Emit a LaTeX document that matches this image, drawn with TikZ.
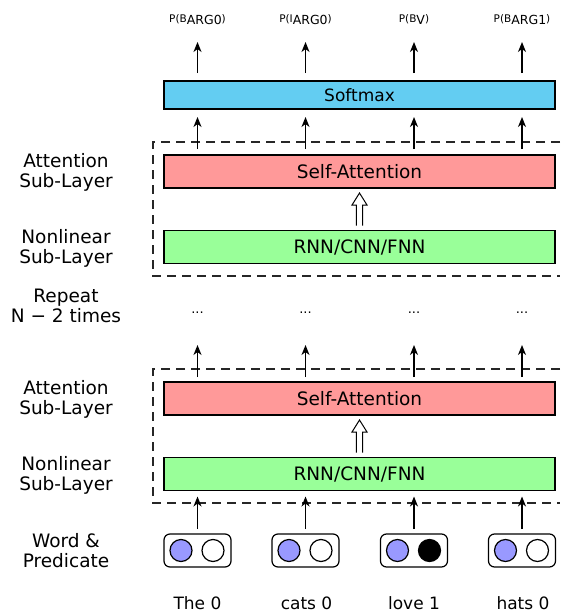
\documentclass[tikz,border=0pt]{standalone}
\usepackage{fontspec}
\setmainfont{DejaVu Sans}
\usetikzlibrary{arrows.meta,calc}
\definecolor{softcol}{RGB}{99,205,242}
\definecolor{attcol}{RGB}{255,153,153}
\definecolor{rnncol}{RGB}{153,255,153}
\definecolor{wordcol}{RGB}{153,153,255}
\begin{document}
\begin{tikzpicture}[x=1pt,y=-1pt,
  every node/.style={inner sep=0pt,outer sep=0pt},
  layerbox/.style={draw=black,line width=1.2pt,minimum width=391pt,minimum height=33pt,
    font=\fontsize{18.5}{20}\selectfont},
  sidelab/.style={anchor=base,font=\fontsize{18.5}{20}\selectfont},
  wordlab/.style={anchor=base,font=\fontsize{17}{20}\selectfont},
  toplab/.style={anchor=base,font=\fontsize{10.5}{12}\selectfont},
  sublab/.style={},
  dots/.style={anchor=base,font=\fontsize{13}{14}\selectfont},
  inbox/.style={draw=black,line width=1.2pt,rounded corners=6pt,minimum width=67pt,minimum height=33pt},
  unit/.style={circle,draw=black,line width=1.2pt,minimum size=22pt},
  arr/.style={-{Stealth[length=10pt,width=8pt,inset=3pt]},line width=1.4pt},
  hollow/.style={draw=black,line width=1pt,line join=miter},
  group/.style={draw=black!85,line width=1.2pt,dash pattern=on 9pt off 6pt}
]
\useasboundingbox (0,0) rectangle (560,613);

% column positions
\def\cA{197.5}\def\cB{305.5}\def\cC{414}\def\cD{522}
\def\sub#1{\raisebox{-2.5pt}{\fontsize{12.5}{12}\selectfont #1}}

% output distribution labels
\node[toplab] (p1) at (\cA,22) {P(B\sub{ARG0})};
\node[toplab] (p2) at (\cB,22) {P(I\sub{ARG0})};
\node[toplab] (p3) at (\cC,22) {P(B\sub{V})};
\node[toplab] (p4) at (\cD,22) {P(B\sub{ARG1})};
\foreach \i/\c in {1/\cA,2/\cB,3/\cC,4/\cD} {
  \coordinate (t\i) at (\c,42);
  \coordinate (m\i) at (\c,345);
}

% layers
\node[layerbox,fill=softcol,minimum height=28pt,font=\fontsize{17}{20}\selectfont] (soft) at (359.5,95) {Softmax};
\node[layerbox,fill=attcol] (att1) at (359.5,171.5) {Self-Attention};
\node[layerbox,fill=rnncol] (rnn1) at (359.5,247) {RNN/CNN/FNN};
\node[layerbox,fill=attcol] (att2) at (359.5,398.5) {Self-Attention};
\node[layerbox,fill=rnncol] (rnn2) at (359.5,474) {RNN/CNN/FNN};

% dashed groups around each attention block
\draw[group] (560,142) -- (153,142) -- (153,276) -- (560,276);
\draw[group] (560,369) -- (153,369) -- (153,503) -- (560,503);

% repeated-layer ellipsis
\node[dots] (d1) at (\cA,313) {...};
\node[dots] (d2) at (\cB,313) {...};
\node[dots] (d3) at (\cC,313) {...};
\node[dots] (d4) at (\cD,313) {...};

% word and predicate inputs
\foreach \i/\c in {1/\cA,2/\cB,3/\cC,4/\cD} {
  \node[inbox] (w\i) at (\c,550.5) {};
  \node[unit,fill=wordcol] (e\i) at ([xshift=-16.5pt]w\i.center) {};
}
\node[unit,fill=white] (f1) at ([xshift=15.5pt]w1.center) {};
\node[unit,fill=white] (f2) at ([xshift=15.5pt]w2.center) {};
\node[unit,fill=black] (f3) at ([xshift=15.5pt]w3.center) {};
\node[unit,fill=white] (f4) at ([xshift=15.5pt]w4.center) {};

\node[wordlab] (x1) at (\cA,609) {The 0};
\node[wordlab] (x2) at (\cB+1,609) {cats 0};
\node[wordlab] (x3) at (\cC,609) {love 1};
\node[wordlab] (x4) at (\cD+1,609) {hats 0};

% arrows
\foreach \i in {1,2,3,4} {
  \draw[arr,shorten <=8pt] (soft.north -| t\i) -- (t\i);
  \draw[arr,shorten <=6pt,shorten >=8pt] (att1.north -| t\i) -- (soft.south -| t\i);
  \draw[arr,shorten <=5pt] (att2.north -| m\i) -- (m\i);
  \draw[arr,shorten <=5pt,shorten >=6pt] (w\i.north) -- (rnn2.south -| w\i);
}

% hollow arrows from nonlinear to attention sub-layer
\foreach \a/\r in {att1/rnn1,att2/rnn2} {
  \draw[hollow] ([xshift=-3.2pt,yshift=5pt]\r.north) -- ([xshift=-3.2pt,yshift=-17pt]\a.south)
    -- ([xshift=-7.5pt,yshift=-17pt]\a.south) -- ([yshift=-5pt]\a.south)
    -- ([xshift=7.5pt,yshift=-17pt]\a.south) -- ([xshift=3.2pt,yshift=-17pt]\a.south)
    -- ([xshift=3.2pt,yshift=5pt]\r.north);
}

% row labels
\node[sidelab] (la1) at (66,167) {Attention};
\node[sidelab] (lb1) at (66,187) {Sub-Layer};
\node[sidelab] (la2) at (66,243) {Nonlinear};
\node[sidelab] (lb2) at (66,263) {Sub-Layer};
\node[sidelab] (lr1) at (66,302) {Repeat};
\node[sidelab] (lr2) at (66,322) {N − 2 times};
\node[sidelab] (la3) at (66,394) {Attention};
\node[sidelab] (lb3) at (66,414) {Sub-Layer};
\node[sidelab] (la4) at (66,470) {Nonlinear};
\node[sidelab] (lb4) at (66,490) {Sub-Layer};
\node[sidelab] (lw1) at (66,547) {Word \&};
\node[sidelab] (lw2) at (66,567) {Predicate};
\end{tikzpicture}
\end{document}
